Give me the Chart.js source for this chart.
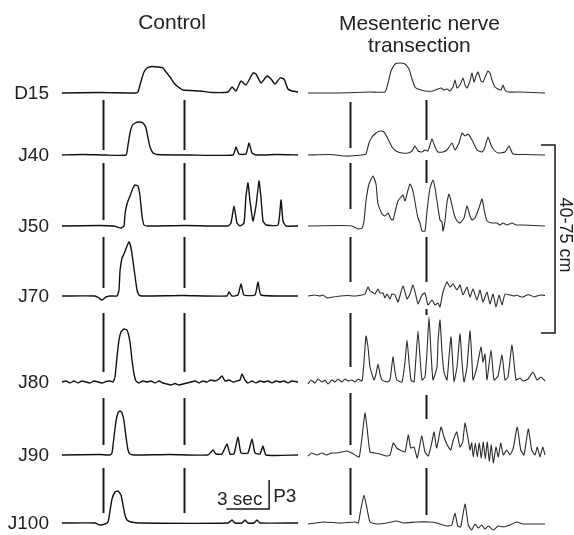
<!DOCTYPE html>
<html>
<head>
<meta charset="utf-8">
<script src="https://cdn.jsdelivr.net/npm/chart.js@4.4.0/dist/chart.umd.min.js"></script>
<style>
  body { margin: 0; background: #fff; }
  #wrap { position: relative; width: 574px; height: 535px; }
</style>
</head>
<body>
<div id="wrap"><canvas id="traces" width="574" height="535"></canvas></div>
<script>
// ---- data: [time in s, pressure amplitude] ----
const rowLabels = ['D15', 'J40', 'J50', 'J70', 'J80', 'J90', 'J100'];
const panelTitles = [['Control'], ['Mesenteric nerve', 'transection']];

const ctrlD15 = [[0,0],[2.66,0.5],[5.18,0],[5.32,1],[5.46,8],[5.6,15],[5.74,21],[5.95,25],[6.3,26.5],[6.72,26],[7.07,25],[7.28,21],[7.56,16],[7.84,10],[8.05,7],[8.47,3],[9.66,2],[10.57,0.5],[11.62,1],[11.9,6],[12.18,2],[12.53,12],[12.88,8],[13.37,20],[13.58,19],[13.93,10],[14.35,17],[14.63,14],[14.91,9],[15.26,15],[15.54,14],[15.82,4],[16.1,2],[16.52,1]];
const ctrlJ40 = [[0,0],[1.5,0.5],[3.0,0],[4.48,0],[4.62,10],[4.76,22],[4.9,29],[5.11,32],[5.39,33],[5.67,32],[5.88,27],[6.02,17],[6.16,8],[6.37,2],[6.65,0.5],[9.0,0],[11.97,0],[12.18,8],[12.39,1],[12.88,1],[13.09,12],[13.3,2],[13.58,0],[15.0,0.5],[16.52,0]];
const ctrlJ50 = [[0,0],[2.66,0.5],[3.64,0],[3.85,-1],[4.13,-2],[4.34,0],[4.41,12],[4.55,22],[4.76,30],[4.97,38],[5.11,41],[5.32,40],[5.46,30],[5.6,10],[5.74,1],[5.95,0],[8.61,0.5],[11.62,0],[11.83,3],[12.04,20],[12.25,3],[12.46,0],[12.74,3],[12.88,30],[13.02,43],[13.16,25],[13.37,5],[13.58,20],[13.79,45],[13.93,28],[14.07,5],[14.28,1],[15.12,1],[15.33,26],[15.47,5],[15.68,0],[16.52,0]];
const ctrlJ70 = [[0,0],[2.31,0],[2.59,-2],[2.8,-4],[3.08,-1],[3.36,0],[3.85,0],[3.99,6],[4.06,25],[4.2,38],[4.34,42],[4.55,50],[4.69,54],[4.83,48],[4.97,35],[5.11,20],[5.25,6],[5.39,1],[5.6,0],[8.5,0.5],[11.55,0],[11.69,4],[11.9,0],[12.32,1],[12.53,12],[12.74,1],[13.51,1],[13.72,14],[13.93,1],[16.52,0]];
const ctrlJ80 = [[0,0],[0.28,1],[0.56,-1],[0.84,1],[1.12,-1],[1.4,1],[1.68,0],[1.96,-1],[2.24,1],[2.52,0],[2.8,-1],[3.08,0.5],[3.36,1],[3.57,0],[3.71,5],[3.85,25],[3.99,42],[4.13,50],[4.34,53],[4.55,52],[4.76,40],[4.9,22],[5.04,8],[5.18,1],[5.39,-1],[5.67,1],[5.95,0],[6.23,1],[6.51,-1],[6.79,1],[7.07,-1],[7.35,-2],[7.63,-3],[7.91,-1.5],[8.19,-3],[8.47,-2],[8.75,-1],[9.03,0],[9.31,1],[9.59,-1],[9.87,1],[10.15,0],[10.43,2],[10.71,1],[10.99,3],[11.2,6],[11.41,1],[11.69,2],[11.97,0],[12.25,1],[12.46,2],[12.6,8],[12.81,2],[13.02,-1],[13.3,1],[13.58,-1],[13.86,1],[14.14,0],[14.42,1],[14.7,-1],[14.98,1],[15.26,0],[15.54,1],[15.82,-1],[16.1,1],[16.52,0]];
const ctrlJ90 = [[0,0],[2.66,0.5],[3.36,0],[3.5,2],[3.64,18],[3.78,34],[3.92,42],[4.06,44],[4.2,42],[4.34,34],[4.48,18],[4.62,5],[4.76,1],[5.04,0],[7.56,0.5],[10.22,0],[10.57,5],[10.78,1],[11.2,1],[11.55,11],[11.76,1],[12.04,1],[12.32,18],[12.53,2],[13.02,2],[13.3,16],[13.51,2],[13.86,1],[14.07,9],[14.28,0],[16.52,0]];
const ctrlJ100 = [[0,0],[2.31,0],[2.66,-2],[3.01,-1],[3.22,1],[3.36,12],[3.5,24],[3.71,31],[3.92,32],[4.13,28],[4.27,18],[4.41,8],[4.55,3],[4.83,1],[5.46,0],[11.62,0],[11.9,3],[12.11,0],[12.6,0],[12.81,3],[13.02,0],[13.44,0],[13.65,3],[13.86,0],[16.52,0]];

const nerveD15 = [[0,0],[2.24,0],[4.34,1],[5.39,1],[5.6,10],[5.81,22],[6.09,29],[6.44,30],[6.79,29],[7.07,24],[7.28,14],[7.49,6],[7.7,4],[8.19,2],[8.75,2],[9.1,4],[9.31,5],[9.52,3],[9.73,4],[9.94,2],[10.15,6],[10.29,13],[10.43,5],[10.64,8],[10.85,15],[10.99,8],[11.13,5],[11.34,12],[11.48,20],[11.62,11],[11.76,17],[11.9,21],[12.11,12],[12.25,11],[12.46,18],[12.6,22],[12.74,20],[12.88,13],[13.09,6],[13.3,4],[13.51,3],[13.65,8],[13.79,3],[14.0,1],[14.84,1],[16.59,0]];
const nerveJ40 = [[0,0],[1.54,0.5],[2.59,-1],[2.94,-1],[3.78,0],[4.06,1],[4.27,12],[4.48,18],[4.76,22],[5.04,24],[5.32,23],[5.6,16],[5.88,8],[6.16,4],[6.58,2],[7.0,2],[7.28,4],[7.49,9],[7.7,4],[7.98,3],[8.19,5],[8.4,4],[8.68,16],[8.89,8],[9.1,3],[9.45,3],[9.73,5],[10.08,12],[10.29,5],[10.57,12],[10.78,22],[10.99,19],[11.2,21],[11.48,15],[11.83,5],[12.18,3],[12.39,8],[12.6,18],[12.81,10],[13.02,5],[13.3,2],[13.79,3],[14.07,9],[14.35,1],[15.19,0.5],[16.59,0]];
const nerveJ50 = [[0,0],[2.24,0.5],[3.08,0],[3.5,-3],[3.78,-2],[3.92,5],[4.06,25],[4.27,42],[4.55,50],[4.76,42],[4.9,22],[5.18,12],[5.39,10],[5.6,13],[5.81,7],[5.95,6],[6.16,18],[6.3,25],[6.51,29],[6.65,31],[6.79,25],[7.0,36],[7.14,42],[7.28,38],[7.42,30],[7.56,18],[7.7,8],[7.84,3],[7.98,-5],[8.19,-5],[8.33,15],[8.54,38],[8.75,46],[8.89,38],[9.03,25],[9.24,6],[9.38,4],[9.45,-5],[9.59,5],[9.73,24],[9.87,32],[10.01,25],[10.22,12],[10.43,5],[10.64,3],[10.92,8],[11.13,20],[11.34,10],[11.48,6],[11.69,8],[11.97,18],[12.18,27],[12.39,12],[12.53,5],[12.88,3],[13.23,3],[13.44,1],[13.65,3],[13.93,1],[14.28,3],[14.56,1],[15.05,1],[16.59,0]];
const nerveJ70 = [[0,0],[0.49,1],[0.84,0],[1.05,1],[1.33,-2],[1.75,-1],[2.24,0],[2.73,0.5],[3.29,0],[3.78,1],[3.99,2],[4.2,9],[4.34,5],[4.48,4],[4.69,2],[4.9,7],[5.04,3],[5.25,3],[5.39,-2],[5.53,2],[5.74,-3],[5.88,2],[6.09,1],[6.3,-6],[6.65,10],[6.93,-3],[7.14,2],[7.35,11],[7.56,0],[7.7,-8],[7.98,1],[8.19,3],[8.4,-9],[8.68,-4],[8.89,-9],[9.1,-7],[9.24,-11],[9.45,4],[9.73,14],[9.94,9],[10.15,12],[10.43,6],[10.64,11],[10.85,1],[11.13,9],[11.34,-1],[11.55,7],[11.83,-4],[12.04,6],[12.25,-6],[12.53,4],[12.74,-8],[12.95,2],[13.16,-11],[13.37,1],[13.58,-9],[13.79,2],[14.14,1],[14.42,0],[14.63,1],[14.84,-0.5],[15.05,-1],[15.33,1],[15.54,1],[15.82,-1],[16.03,0],[16.31,1],[16.59,0.5]];
const nerveJ80 = [[0,-2],[0.21,2],[0.49,-1],[0.7,3],[0.98,0],[1.19,2],[1.4,-2],[1.68,2],[1.89,0],[2.1,3],[2.38,0],[2.59,3],[2.8,1],[3.08,2],[3.29,0],[3.5,3],[3.78,1],[3.92,20],[4.06,46],[4.2,35],[4.34,15],[4.62,2],[4.76,8],[4.9,18],[5.04,8],[5.18,2],[5.53,0],[5.74,2],[5.95,25],[6.09,10],[6.23,2],[6.58,0],[6.79,20],[6.93,42],[7.07,20],[7.21,2],[7.42,0],[7.56,25],[7.7,51],[7.84,25],[7.98,2],[8.19,5],[8.33,30],[8.47,65],[8.61,30],[8.75,2],[9.03,15],[9.1,40],[9.24,62],[9.38,30],[9.52,10],[9.73,2],[9.87,25],[10.01,45],[10.15,15],[10.22,0],[10.43,15],[10.64,48],[10.78,20],[10.92,0],[11.13,15],[11.34,51],[11.48,20],[11.55,2],[11.83,15],[12.11,35],[12.25,20],[12.39,28],[12.53,2],[12.81,32],[13.02,2],[13.3,6],[13.58,27],[13.79,2],[14.0,5],[14.28,37],[14.56,2],[14.84,4],[15.05,1],[15.4,3],[15.75,10],[16.03,2],[16.31,5],[16.59,1]];
const nerveJ90 = [[0,-1],[0.26,2],[0.61,0],[0.96,2],[1.31,0],[1.66,2],[2.01,2],[2.36,3],[2.71,4],[3.06,2],[3.41,-1],[3.59,-2],[3.76,15],[3.99,42],[4.15,25],[4.34,3],[4.69,2],[5.04,1],[5.51,-1],[5.74,0],[5.97,12],[6.21,7],[6.44,5],[6.79,3],[7.02,20],[7.19,7],[7.42,8],[7.65,-3],[7.96,19],[8.19,3],[8.42,-1],[8.66,12],[8.82,23],[9.01,7],[9.31,28],[9.52,18],[9.75,10],[9.99,5],[10.17,15],[10.41,23],[10.64,8],[10.83,13],[10.99,32],[11.22,15],[11.34,5],[11.46,12],[11.57,-2],[11.71,12],[11.85,-2],[11.99,12],[12.13,-3],[12.27,13],[12.41,-4],[12.55,13],[12.69,-6],[12.83,10],[12.97,-8],[13.16,8],[13.32,-2],[13.49,12],[13.67,0],[13.91,5],[14.14,0],[14.37,7],[14.65,28],[14.89,5],[15.12,0],[15.42,26],[15.66,5],[15.89,0],[16.05,8],[16.24,-2],[16.43,8],[16.59,0]];
const nerveJ100 = [[0,-1],[1.07,1],[2.24,0],[3.29,1],[3.52,0],[3.69,13],[3.92,28],[4.15,13],[4.34,1],[4.81,-1],[5.51,0],[6.21,2],[6.67,0],[7.61,1],[8.54,1],[9.01,0],[9.71,-3],[10.06,-2],[10.29,10],[10.48,-3],[10.69,-4],[10.99,19],[11.22,-2],[11.46,-7],[11.69,-1],[11.92,-5],[12.15,-2],[12.39,-6],[12.62,-3],[12.97,-7],[13.32,-3],[13.67,-4],[14.14,-2],[14.61,1],[15.05,-1],[15.54,-1],[16.59,-1]];

const ctrlTraces = [ctrlD15, ctrlJ40, ctrlJ50, ctrlJ70, ctrlJ80, ctrlJ90, ctrlJ100];
const nerveTraces = [nerveD15, nerveJ40, nerveJ50, nerveJ70, nerveJ80, nerveJ90, nerveJ100];

// stimulus markers (s)
const ctrlMarks = [2.87, 8.54];
const nerveMarks = [2.94, 8.26];
const scaleBarSec = 3;
const bracketText = '40-75 cm';

// ---- layout ----
const W = 574, H = 535;
const secPerPx = 0.07;
const ctrlOrigin = 62, nerveOrigin = 308;
const rowBase = [93, 155, 226, 296, 382, 455, 523];
const ctrlMarkSegs = [[100,150],[163,220],[237,288],[313,372],[398,445],[468,513]];
const nerveMarkSegs = [
  [[102,148],[163,209],[237,282],[313,367],[393,445],[468,515]],
  [[100,140],[160,183],[237,282],[309,315],[395,419],[468,515]]
];
const FONT = '"Liberation Sans", Arial, Helvetica, sans-serif';

const datasets = [];
function addPanel(traces, axisId, color, width) {
  traces.forEach((tr, i) => {
    datasets.push({
      data: tr.map(p => ({ x: p[0], y: rowBase[i] - p[1] })),
      xAxisID: axisId,
      yAxisID: 'y',
      borderColor: color,
      borderWidth: width,
      pointRadius: 0,
      tension: 0.15,
      fill: false,
      clip: false
    });
  });
}
addPanel(ctrlTraces, 'xL', '#111', 1.4);
addPanel(nerveTraces, 'xR', '#2b2b2b', 1.1);

const decor = {
  id: 'decor',
  afterDatasetsDraw(chart) {
    const ctx = chart.ctx;
    const xL = chart.scales.xL, xR = chart.scales.xR, y = chart.scales.y;
    ctx.save();
    ctx.fillStyle = '#222';
    ctx.strokeStyle = '#1a1a1a';

    // panel titles
    ctx.font = '21px ' + FONT;
    ctx.textAlign = 'center';
    ctx.textBaseline = 'alphabetic';
    ctx.fillText(panelTitles[0][0], xL.getPixelForValue(7.7), y.getPixelForValue(29));
    panelTitles[1].forEach((line, k) => {
      ctx.fillText(line, xR.getPixelForValue(7.8), y.getPixelForValue(30 + k * 22));
    });

    // row labels
    ctx.font = '19px ' + FONT;
    ctx.textAlign = 'right';
    rowLabels.forEach((lab, i) => {
      ctx.fillText(lab, xL.getPixelForValue(0) - 13, y.getPixelForValue(rowBase[i] + 6));
    });

    // stimulus markers
    ctx.lineWidth = 2;
    function marks(scale, t, segs) {
      const px = Math.round(scale.getPixelForValue(t)) + 0.5;
      segs.forEach(s => {
        ctx.beginPath();
        ctx.moveTo(px, y.getPixelForValue(s[0]));
        ctx.lineTo(px, y.getPixelForValue(s[1]));
        ctx.stroke();
      });
    }
    ctrlMarks.forEach(t => marks(xL, t, ctrlMarkSegs));
    nerveMarks.forEach((t, k) => marks(xR, t, nerveMarkSegs[k]));

    // 3 sec / P3 scale bar
    ctx.lineWidth = 1.5;
    const sb0 = xL.getPixelForValue(11.5), sb1 = xL.getPixelForValue(11.5 + scaleBarSec);
    ctx.beginPath();
    ctx.moveTo(sb0, y.getPixelForValue(509));
    ctx.lineTo(sb1, y.getPixelForValue(509));
    ctx.lineTo(sb1, y.getPixelForValue(480));
    ctx.stroke();
    ctx.font = '19px ' + FONT;
    ctx.textAlign = 'center';
    ctx.fillText(scaleBarSec + ' sec', (sb0 + sb1) / 2 - 8, y.getPixelForValue(505));
    ctx.textAlign = 'left';
    ctx.fillText('P3', sb1 + 4, y.getPixelForValue(502));

    // bracket for 40-75 cm
    const bx = xR.getPixelForValue(17.29), bt = xR.getPixelForValue(16.31);
    const top = y.getPixelForValue(rowBase[1] - 10), bot = y.getPixelForValue(rowBase[4] - 49);
    ctx.beginPath();
    ctx.moveTo(bt, top);
    ctx.lineTo(bx, top);
    ctx.lineTo(bx, bot);
    ctx.lineTo(bt, bot);
    ctx.stroke();
    ctx.translate(xR.getPixelForValue(17.99), y.getPixelForValue(235));
    ctx.rotate(Math.PI / 2);
    ctx.font = '18px ' + FONT;
    ctx.textAlign = 'center';
    ctx.textBaseline = 'middle';
    ctx.fillText(bracketText, 0, 0);
    ctx.restore();
  }
};

new Chart(document.getElementById('traces'), {
  type: 'line',
  data: { datasets: datasets },
  options: {
    responsive: false,
    animation: false,
    layout: { padding: 0 },
    plugins: { legend: { display: false }, tooltip: { enabled: false } },
    scales: {
      xL: { type: 'linear', display: false, min: -ctrlOrigin * secPerPx, max: (W - ctrlOrigin) * secPerPx },
      xR: { type: 'linear', display: false, min: -nerveOrigin * secPerPx, max: (W - nerveOrigin) * secPerPx },
      y: { type: 'linear', display: false, min: 0, max: H, reverse: true }
    }
  },
  plugins: [decor]
});
</script>
</body>
</html>
